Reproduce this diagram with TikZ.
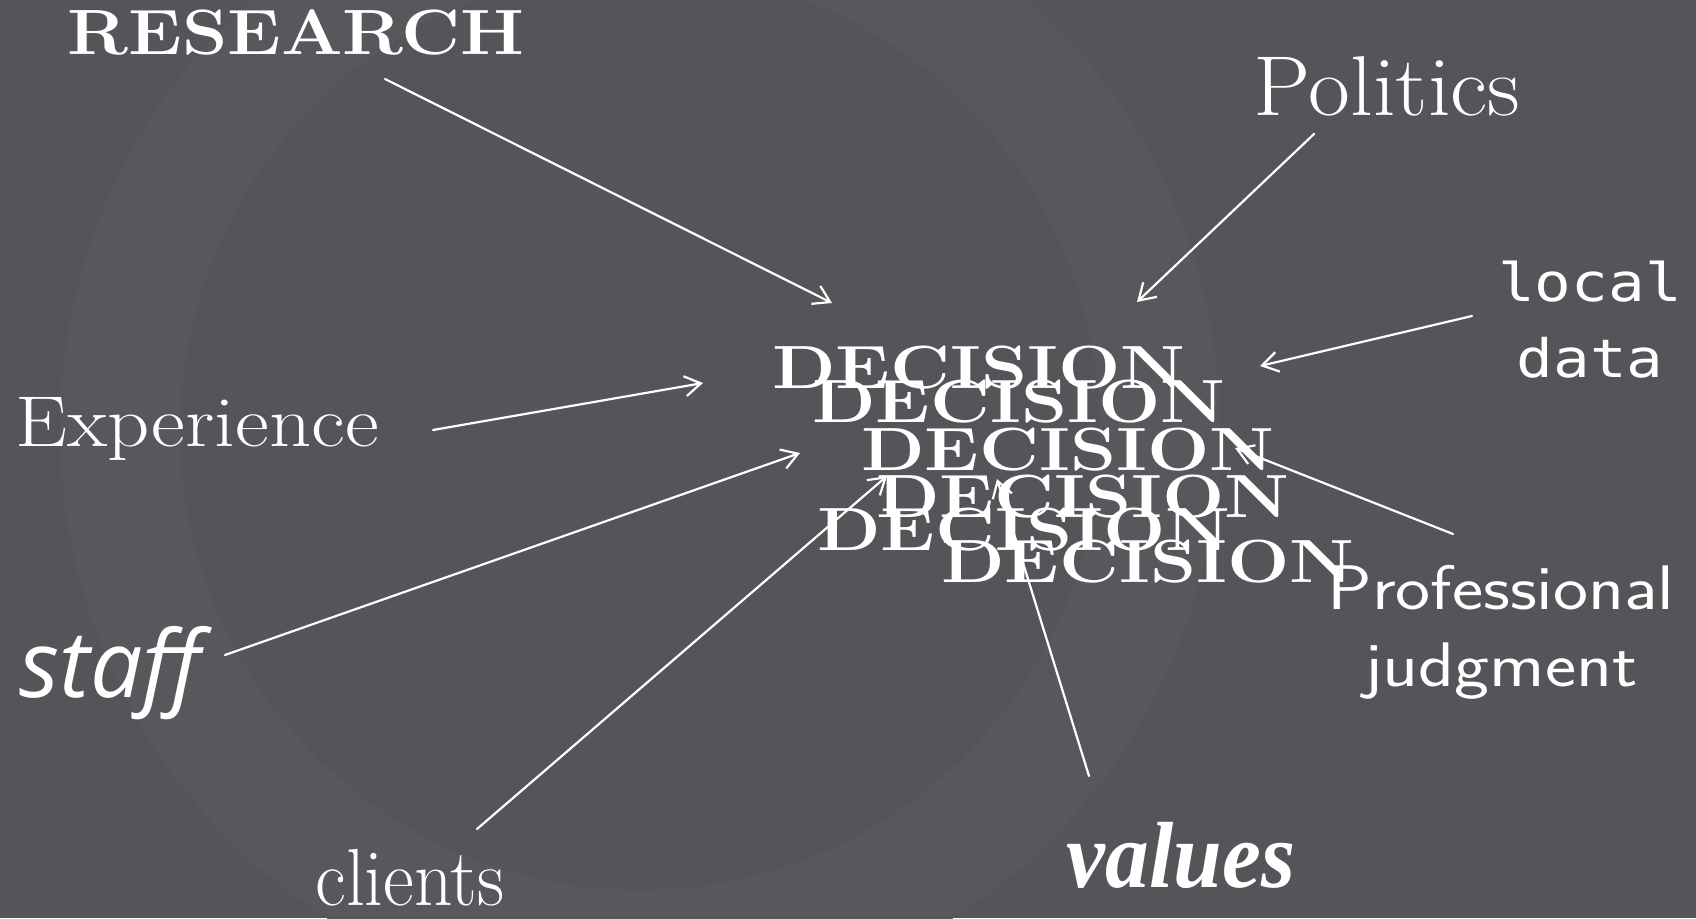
\documentclass[tikz,border=0pt]{standalone}
\usepackage{fontspec}
\usepackage{graphicx}
\usetikzlibrary{arrows.meta}
\newfontfamily\monofont{DejaVu Sans Mono}
\newfontfamily\handfont{Open Sans}
\newfontfamily\valfont{Liberation Serif}
\definecolor{bg}{RGB}{84,84,89}
\definecolor{wm}{RGB}{87,87,92}
\begin{document}
\begin{tikzpicture}[x=1pt,y=-1pt,
  lbl/.style={text=white, inner sep=0pt},
  arr/.style={draw=white, line width=2.2pt, line cap=round,
    -{Straight Barb[length=16pt,width=20pt,line width=2.2pt]}},
  dec/.style={lbl, anchor=base, font=\bfseries\fontsize{61}{61}\selectfont}]
% background
\fill[bg] (0,0) rectangle (1696,918);
\path[use as bounding box] (0,0) rectangle (1696,918);
\begin{scope}
\clip (0,0) rectangle (1696,918);
\draw[wm, line width=120pt] (640,430) circle[radius=520];
\end{scope}

% labels
\node[lbl, anchor=base, font=\bfseries\fontsize{64}{64}\selectfont] (research) at (296,54) {\scalebox{1.135}[1]{RESEARCH}};
\node[lbl, anchor=base, font=\fontsize{85}{85}\selectfont] (politics) at (1387,115) {\scalebox{1.07}[1]{Politics}};
\node[lbl, align=center, font=\monofont\fontsize{53}{76}\selectfont] (localdata) at (1590,320) {\scalebox{1.15}[1]{local}\\\scalebox{1.15}[1]{data}};
\node[lbl, anchor=base, font=\fontsize{72}{72}\selectfont] (experience) at (197,446) {\scalebox{1.15}[1]{Experience}};
\node[lbl, anchor=base, font=\handfont\itshape\fontsize{93}{93}\selectfont] (staff) at (110,697) {staff};
\node[lbl, anchor=base, font=\fontsize{81}{81}\selectfont] (clients) at (410,905) {\scalebox{0.93}[1]{clients}};
\node[lbl, anchor=base, font=\valfont\bfseries\itshape\fontsize{94}{94}\selectfont] (values) at (1181,887) {\scalebox{0.93}[1]{values}};
\node[lbl, align=center, font=\sffamily\fontsize{63}{77}\selectfont] (profjudg) at (1501,632) {\scalebox{1.18}[1]{Professional}\\\scalebox{1.18}[1]{judgment}};

% DECISION stack
\node[dec] (dec1) at (979,388) {\scalebox{1.21}[1]{DECISION}};
\node[dec] (dec2) at (1019,422) {\scalebox{1.21}[1]{DECISION}};
\node[dec] (dec3) at (1068,470) {\scalebox{1.21}[1]{DECISION}};
\node[dec] (dec4) at (1083,517) {\scalebox{1.21}[1]{DECISION}};
\node[dec] (dec5) at (1024,550) {\scalebox{1.21}[1]{DECISION}};
\node[dec] (dec6) at (1148,582) {\scalebox{1.21}[1]{DECISION}};

% connector ends
\coordinate (researchOut) at (385,79);
\coordinate (researchIn) at (832,303);
\coordinate (politicsOut) at (1314,134);
\coordinate (politicsIn) at (1137,302);
\coordinate (localOut) at (1472,316);
\coordinate (localIn) at (1260,366);
\coordinate (experienceOut) at (433,430);
\coordinate (experienceIn) at (703,383);
\coordinate (staffOut) at (225,655);
\coordinate (staffIn) at (800,453);
\coordinate (clientsOut) at (477,829);
\coordinate (clientsIn) at (887,476);
\coordinate (valuesOut) at (1089,776);
\coordinate (valuesIn) at (997,479);
\coordinate (profOut) at (1453,534);
\coordinate (profIn) at (1235,448);

\draw[arr] (researchOut) -- (researchIn);
\draw[arr] (politicsOut) -- (politicsIn);
\draw[arr] (localOut) -- (localIn);
\draw[arr] (experienceOut) -- (experienceIn);
\draw[arr] (staffOut) -- (staffIn);
\draw[arr] (clientsOut) -- (clientsIn);
\draw[arr] (valuesOut) -- (valuesIn);
\draw[arr] (profOut) -- (profIn);
\end{tikzpicture}
\end{document}
